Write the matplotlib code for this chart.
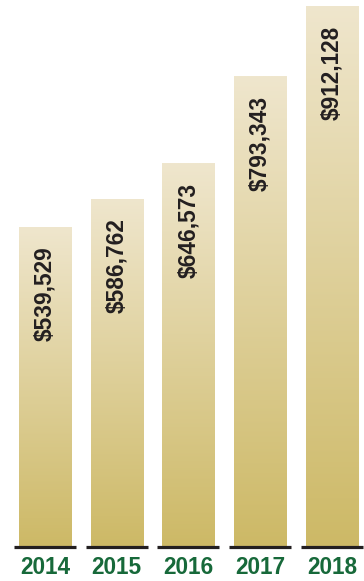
import numpy as np
import matplotlib
matplotlib.use('Agg')
from matplotlib import pyplot as plt
from matplotlib.colors import LinearSegmentedColormap

years = ['2014', '2015', '2016', '2017', '2018']
values = [539529, 586762, 646573, 793343, 912128]
labels = ['$539,529', '$586,762', '$646,573', '$793,343', '$912,128']

plt.rcParams['font.family'] = ['Liberation Sans', 'DejaVu Sans']

fig = plt.figure(figsize=(3.64, 5.81), dpi=100)
ax = fig.add_axes([0, 34/581, 1, 547/581])

gold = LinearSegmentedColormap.from_list('gold', ['#CDB966', '#EFE6CD'])
grad = np.linspace(0, 1, 256).reshape(-1, 1)

x = np.arange(len(years))
bars = ax.bar(x, values, width=0.725, color='none', edgecolor='none')
for b in bars:
    x0, w, h = b.get_x(), b.get_width(), b.get_height()
    im = ax.imshow(grad, extent=[x0, x0 + w, 0, h], origin='lower',
                   aspect='auto', cmap=gold, zorder=1)
    im.set_clip_path(b)

# dark base segments under each bar
ax.hlines([0] * len(x), x - 0.432, x + 0.432, color='#231F20', lw=2.3,
          zorder=3, clip_on=False)

for i, v in enumerate(values):
    ax.annotate(labels[i], (x[i], v), xytext=(0, -14), textcoords='offset points',
                rotation=90, ha='center', va='top', fontsize=16.3,
                fontweight='heavy', color='#231F20')
    ax.annotate(years[i], (x[i], 0), xytext=(0, -14.5), textcoords='offset points',
                ha='center', va='center', fontsize=16.3, fontweight='heavy',
                color='#17693A', annotation_clip=False)

ax.set_xlim(-0.627, 4.446)
ax.set_ylim(0, 922000)
ax.axis('off')

fig.savefig('out.png', dpi=100)
